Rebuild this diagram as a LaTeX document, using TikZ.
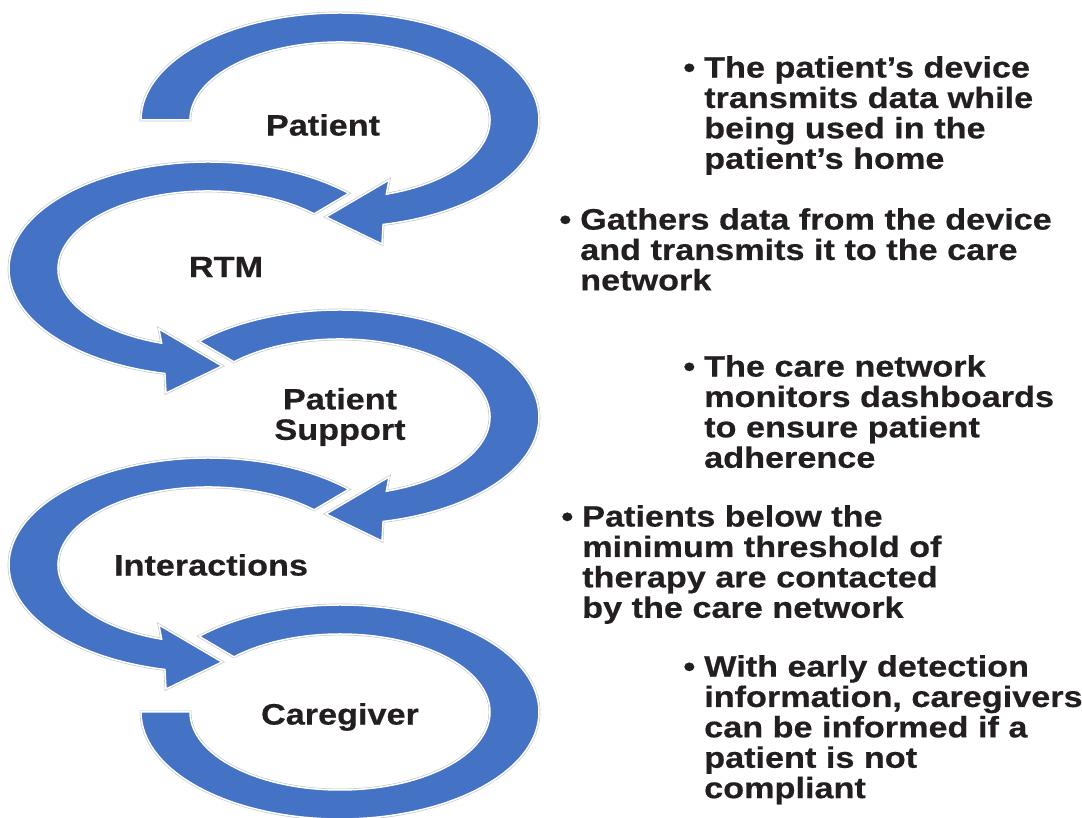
\documentclass[tikz,border=0pt]{standalone}
\usepackage{fontspec}
\usepackage{tikz}
\newfontfamily\stagefont{Liberation Sans}[FakeStretch=1.16, FakeBold=0.5]
\definecolor{ringblue}{RGB}{68,114,196}
\definecolor{ink}{RGB}{35,31,32}
\newcommand{\bul}{\llap{\textbullet\hspace{0.3em}}}

\begin{document}
\begin{tikzpicture}[x=1pt, y=1pt,
    ring/.style={fill=ringblue, draw=white, line width=1.5pt,
      preaction={draw=black!22, line width=2.8pt}},
    stage/.style={font=\stagefont\bfseries\fontsize{29.5}{30.4}\selectfont, text=ink, align=center, inner sep=0pt},
    note/.style={font=\stagefont\bfseries\fontsize{29.5}{30.4}\selectfont, text=ink, align=left, inner sep=0pt, anchor=north west}]
    \useasboundingbox (0,0) rectangle (1082,818);

    % rings, bottom one first so each arrow head lies over the next tail
    \draw[ring, shift={(340,106)}] (135:199 and 107) arc[start angle=135, end angle=-180, x radius=199, y radius=107]
      -- (180:150 and 78) arc[start angle=-180, end angle=135, x radius=150, y radius=78] -- cycle;
    \draw[ring, shift={(208,253)}] (45:199 and 107) arc[start angle=45, end angle=257.5, x radius=199, y radius=107]
      -- (-42,-124) -- (14,-97) -- (-49,-60) -- (252:150 and 78)
      arc[start angle=252, end angle=45, x radius=150, y radius=78] -- cycle;
    \draw[ring, shift={(340,401)}] (135:199 and 107) arc[start angle=135, end angle=-77.5, x radius=199, y radius=107]
      -- (42,-124) -- (-14,-97) -- (49,-60) -- (-72:150 and 78)
      arc[start angle=-72, end angle=135, x radius=150, y radius=78] -- cycle;
    \draw[ring, shift={(208,549)}] (45:199 and 107) arc[start angle=45, end angle=257.5, x radius=199, y radius=107]
      -- (-42,-124) -- (14,-97) -- (-49,-60) -- (252:150 and 78)
      arc[start angle=252, end angle=45, x radius=150, y radius=78] -- cycle;
    \draw[ring, shift={(340,698)}] (180:199 and 107) arc[start angle=180, end angle=-77.5, x radius=199, y radius=107]
      -- (42,-124) -- (-14,-97) -- (49,-60) -- (-72:150 and 78)
      arc[start angle=-72, end angle=180, x radius=150, y radius=78] -- cycle;

    % stage names
    \node[stage] (pat) at (323,693) {Patient};
    \node[stage] (rtm) at (226,551) {RTM};
    \node[stage] (sup) at (340,401) {Patient\\Support};
    \node[stage] (inter) at (211,253) {Interactions};
    \node[stage] (care) at (340,101) {Caregiver};

    % notes
    \node[note] (patnote) at (704,762) {\bul The patient’s device\\transmits data while\\being used in the\\patient’s home};
    \node[note] (rtmnote) at (580,610) {\bul Gathers data from the device\\and transmits it to the care\\network};
    \node[note] (supnote) at (704,463) {\bul The care network\\monitors dashboards\\to ensure patient\\adherence};
    \node[note] (internote) at (582,313) {\bul Patients below the\\minimum threshold of\\therapy are contacted\\by the care network};
    \node[note] (carenote) at (704,163) {\bul With early detection\\information, caregivers\\can be informed if a\\patient is not\\compliant};
\end{tikzpicture}
\end{document}
